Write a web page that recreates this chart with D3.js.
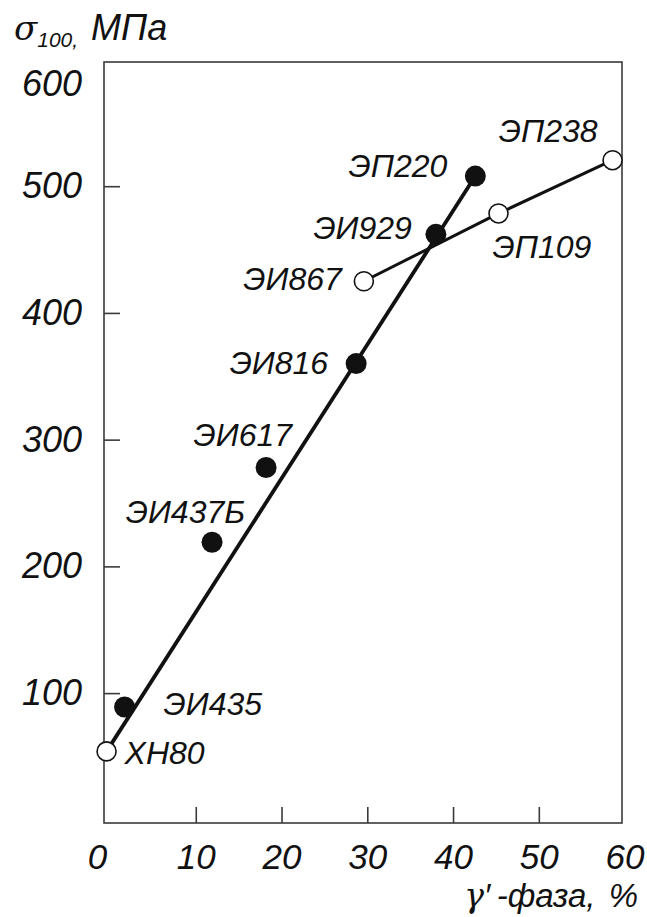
<!DOCTYPE html>
<html>
<head>
<meta charset="utf-8">
<script src="https://cdn.jsdelivr.net/npm/d3@7/dist/d3.min.js"></script>
<style>
  html, body { margin: 0; padding: 0; background: #fff; }
  svg { display: block; font-family: "Liberation Sans", Arial, sans-serif; font-style: italic; }
</style>
</head>
<body>
<svg id="chart" width="647" height="917"></svg>
<script>
// ---- data ----
const alloys     = ["ХН80", "ЭИ435", "ЭИ437Б", "ЭИ617", "ЭИ816", "ЭИ929", "ЭП220", "ЭИ867", "ЭП109", "ЭП238"];
const gammaPrime = [-0.4, 1.7, 11.9, 18.2, 28.7, 38.0, 42.6, 29.6, 45.3, 58.6];
const strength   = [54, 89, 219, 278, 360, 462, 508, 425, 478.5, 520.5];
const filled     = [false, true, true, true, true, true, true, false, false, false];
const lineA      = ["ХН80", "ЭП220"];
const lineB      = ["ЭИ867", "ЭП109", "ЭП238"];
const xTicks     = [0, 10, 20, 30, 40, 50, 60];
const yTicks     = [100, 200, 300, 400, 500, 600];

// ---- label layout (pixels relative to point) ----
const labelPos = {
  "ХН80":  {a: "start", dx: 18,  dy: 13},
  "ЭИ435": {a: "start", dx: 39,  dy: 8},
  "ЭИ437Б":{a: "end",   dx: 33,  dy: -19},
  "ЭИ617": {a: "end",   dx: 26,  dy: -22},
  "ЭИ816": {a: "end",   dx: -28, dy: 10},
  "ЭИ929": {a: "end",   dx: -24, dy: 5},
  "ЭП220": {a: "end",   dx: -28, dy: 1},
  "ЭИ867": {a: "end",   dx: -22, dy: 9},
  "ЭП109": {a: "start", dx: -6,  dy: 45},
  "ЭП238": {a: "end",   dx: -15, dy: -18}
};

const svg = d3.select("#chart");
const L = 104, R = 622, T = 62, B = 823;

const x = d3.scaleLinear().domain([-0.7, 59.7]).range([L, R]);
const y = d3.scaleLinear().domain([-2.5, 598]).range([B, T]);

const pts = alloys.map((n, i) => ({name: n, x: gammaPrime[i], y: strength[i], f: filled[i]}));
const byName = Object.fromEntries(pts.map(p => [p.name, p]));

const ink = "#111";
const axisCol = "#3a3a3a";

// frame
svg.append("rect").attr("x", L).attr("y", T).attr("width", R - L).attr("height", B - T)
  .attr("fill", "none").attr("stroke", axisCol).attr("stroke-width", 1.6);

// y axis
const yAxis = d3.axisLeft(y).tickValues(yTicks).tickSizeInner(-16).tickSizeOuter(0).tickPadding(22);
const gy = svg.append("g").attr("transform", `translate(${L},0)`).call(yAxis);
gy.select(".domain").remove();
gy.selectAll(".tick line").attr("stroke", axisCol).attr("stroke-width", 1.6);
gy.selectAll(".tick").filter(d => d === 600).select("line").remove();
gy.selectAll(".tick text").attr("fill", ink).style("font-size", "36px").style("font-style", "italic")
  .attr("font-family", null);
gy.selectAll(".tick").filter(d => d === 600).select("text").attr("dy", "1.0em");

// x axis
const xAxis = d3.axisBottom(x).tickValues(xTicks).tickSizeInner(-16).tickSizeOuter(0).tickPadding(21);
const gx = svg.append("g").attr("transform", `translate(0,${B})`).call(xAxis);
gx.select(".domain").remove();
gx.selectAll(".tick line").attr("stroke", axisCol).attr("stroke-width", 1.6);
gx.selectAll(".tick").filter(d => d === 0 || d === 60).select("line").remove();
gx.selectAll(".tick text").attr("fill", ink).style("font-size", "35px").style("font-style", "italic")
  .attr("font-family", null);
gx.selectAll(".tick").filter(d => d === 0).select("text").attr("dx", -13);

// lines
const line = d3.line().x(d => x(d.x)).y(d => y(d.y));
svg.append("path").attr("d", line(lineA.map(n => byName[n])))
  .attr("fill", "none").attr("stroke", ink).attr("stroke-width", 3.8);
svg.append("path").attr("d", line(lineB.map(n => byName[n])))
  .attr("fill", "none").attr("stroke", ink).attr("stroke-width", 3);

// markers
svg.selectAll("circle.pt").data(pts).enter().append("circle")
  .attr("class", "pt")
  .attr("cx", d => x(d.x)).attr("cy", d => y(d.y))
  .attr("r", d => d.f ? 10.5 : 9.5)
  .attr("fill", d => d.f ? ink : "#fff")
  .attr("stroke", ink).attr("stroke-width", d => d.f ? 0 : 1.6);

// point labels
svg.selectAll("text.lbl").data(pts).enter().append("text")
  .attr("class", "lbl")
  .attr("x", d => x(d.x) + labelPos[d.name].dx)
  .attr("y", d => y(d.y) + labelPos[d.name].dy)
  .attr("text-anchor", d => labelPos[d.name].a)
  .attr("fill", ink).style("font-size", "32px")
  .text(d => d.name);

// y title
const yt = svg.append("text").attr("x", 14).attr("y", 40).attr("fill", ink).style("font-size", "36px");
yt.append("tspan").style("font-family", "'DejaVu Serif', serif").style("font-size", "34px").text("σ");
yt.append("tspan").attr("dy", 7).style("font-size", "21px").text("100,");
yt.append("tspan").attr("dy", -7).attr("dx", 13).text("МПа");

// x title
const xt = svg.append("text").attr("x", 638).attr("y", 907).attr("text-anchor", "end")
  .attr("fill", ink).style("font-size", "33px").style("word-spacing", "4px");
xt.append("tspan").style("font-family", "'DejaVu Serif', serif").text("γ");
xt.append("tspan").text("′\u2009-фаза, %");
</script>
</body>
</html>
